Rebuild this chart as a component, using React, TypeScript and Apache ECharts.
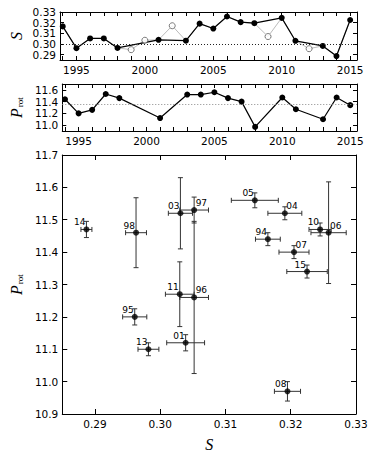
import React, { useEffect, useRef } from "react";
import * as echarts from "echarts";

// ---- data ----
const allYears = [1994,1995,1996,1997,1998,1999,2000,2001,2002,2003,2004,2005,2006,2007,2008,2009,2010,2011,2012,2013,2014,2015];
const filledYears = [1994,1995,1996,1997,1998,2001,2003,2004,2005,2006,2007,2008,2010,2011,2013,2014,2015];
const sFilled = [0.3165,0.2961,0.3052,0.3052,0.2963,0.3039,0.3031,0.3191,0.3145,0.3258,0.3205,0.3195,0.3245,0.3030,0.2982,0.2887,0.3225];
const openYears = [1999,2000,2002,2009,2012];
const sOpen = [0.2947,0.3035,0.3171,0.3070,0.2956];
const pRot = [11.44,11.20,11.26,11.53,11.46,11.12,11.52,11.52,11.56,11.46,11.40,10.97,11.47,11.27,11.10,11.47,11.34];
const sErr = [0.0019,0.00185,0.0022,0.0022,0.0016,0.0029,0.00185,0.0026,0.0036,0.0027,0.0023,0.002,0.0017,0.0022,0.0016,0.00084,0.0031];
const pErr = [0.02,0.025,0.235,0.04,0.108,0.025,0.11,0.02,0.023,0.157,0.02,0.03,0.02,0.10,0.02,0.025,0.02];
const sMean = 0.303;
const pMean = 11.36;
const rightLabels = ["97","96","04","06","07"];

const yearLabelTicks = [1995,2000,2005,2010,2015];
const sTicks = [0.29,0.30,0.31,0.32,0.33];
const sTickLabels = ["0.29","0.30","0.31","0.32","0.33"];
const pTicksMid = [11.0,11.2,11.4,11.6];
const pTicksBig = [10.9,11.0,11.1,11.2,11.3,11.4,11.5,11.6,11.7];

const FONT = "DejaVu Sans";
const SERIF = "Liberation Serif";
const LABEL_SIZE = 10.5;

function axis(opts: any) {
  const { gridIndex, position, min, max, labels, ticks, showLabel, digits, tickLen, name, nameGap, nameStyle, nameRotate } = opts;
  return {
    type: "value",
    gridIndex,
    position,
    min,
    max,
    name,
    nameLocation: "middle",
    nameGap,
    nameRotate,
    nameTextStyle: nameStyle,
    axisLine: { show: true, onZero: false, lineStyle: { color: "#000", width: 1 } },
    axisTick: { show: true, inside: true, length: tickLen, customValues: ticks, lineStyle: { color: "#000", width: 1 } },
    axisLabel: {
      show: showLabel,
      customValues: labels,
      formatter: (v: any) => Number(v).toFixed(digits),
      fontSize: LABEL_SIZE,
      fontFamily: FONT,
      color: "#000",
      margin: 4,
    },
    splitLine: { show: false },
  };
}

const protName = "{p|P}{s|rot}";
const protRich = {
  p: { fontFamily: SERIF, fontStyle: "italic", fontSize: 16, color: "#000", lineHeight: 18, verticalAlign: "bottom" },
  s: { fontFamily: SERIF, fontSize: 9, color: "#000", lineHeight: 9, verticalAlign: "bottom", padding: [0, 0, 0, 1] },
};

export default function App() {
  const ref = useRef<HTMLDivElement>(null);
  useEffect(() => {
    const chart = echarts.init(ref.current!, null, { renderer: "svg" });
    const xmin = 1993.8, xmax = 2015.5;
    const sMin = 0.285, sMax = 0.33, pMin = 10.9, pMax = 11.7;

    const sAll = allYears.map((y) => {
      const i = filledYears.indexOf(y);
      if (i >= 0) return [y, sFilled[i]];
      const j = openYears.indexOf(y);
      return [y, sOpen[j]];
    });

    const pointNames = filledYears.map((y) => String(y).slice(2));
    const errData = filledYears.map((y, i) => [sFilled[i], pRot[i], sErr[i], pErr[i]]);

    const textStyle = { fill: "#000", fontSize: LABEL_SIZE, fontFamily: FONT };

    const option: any = {
      animation: false,
      grid: [
        { left: 52, top: 12, width: 305, height: 48 },
        { left: 52, top: 84, width: 305, height: 47 },
        { left: 52, top: 155, width: 304, height: 262 },
      ],
      xAxis: [
        axis({ gridIndex: 0, position: "bottom", min: xmin, max: xmax, labels: yearLabelTicks, ticks: allYears, showLabel: true, digits: 0, tickLen: 4 }),
        axis({ gridIndex: 0, position: "top", min: xmin, max: xmax, labels: yearLabelTicks, ticks: allYears, showLabel: false, digits: 0, tickLen: 4 }),
        axis({ gridIndex: 1, position: "bottom", min: xmin, max: xmax, labels: yearLabelTicks, ticks: allYears, showLabel: true, digits: 0, tickLen: 4 }),
        axis({ gridIndex: 1, position: "top", min: xmin, max: xmax, labels: yearLabelTicks, ticks: allYears, showLabel: false, digits: 0, tickLen: 4 }),
        axis({ gridIndex: 2, position: "bottom", min: sMin, max: sMax, labels: sTicks, ticks: sTicks, showLabel: false, digits: 2, tickLen: 5,
          name: "S", nameGap: 22, nameStyle: { fontFamily: SERIF, fontStyle: "italic", fontSize: 16, color: "#000" } }),
        axis({ gridIndex: 2, position: "top", min: sMin, max: sMax, labels: sTicks, ticks: sTicks, showLabel: false, digits: 2, tickLen: 5 }),
      ],
      yAxis: [
        axis({ gridIndex: 0, position: "left", min: sMin, max: sMax, labels: sTicks, ticks: sTicks, showLabel: false, digits: 2, tickLen: 4,
          name: "S", nameGap: 36, nameRotate: 90, nameStyle: { fontFamily: SERIF, fontStyle: "italic", fontSize: 16, color: "#000" } }),
        axis({ gridIndex: 0, position: "right", min: sMin, max: sMax, labels: sTicks, ticks: sTicks, showLabel: false, digits: 2, tickLen: 4 }),
        axis({ gridIndex: 1, position: "left", min: pMin, max: pMax, labels: pTicksMid, ticks: pTicksMid, showLabel: true, digits: 1, tickLen: 4,
          name: protName, nameGap: 34, nameRotate: 90, nameStyle: { rich: protRich } }),
        axis({ gridIndex: 1, position: "right", min: pMin, max: pMax, labels: pTicksMid, ticks: pTicksMid, showLabel: false, digits: 1, tickLen: 4 }),
        axis({ gridIndex: 2, position: "left", min: pMin, max: pMax, labels: pTicksBig, ticks: pTicksBig, showLabel: true, digits: 1, tickLen: 5,
          name: protName, nameGap: 31, nameRotate: 90, nameStyle: { rich: protRich } }),
        axis({ gridIndex: 2, position: "right", min: pMin, max: pMax, labels: pTicksBig, ticks: pTicksBig, showLabel: false, digits: 1, tickLen: 5 }),
      ],
      series: [
        {
          type: "line", xAxisIndex: 0, yAxisIndex: 0, data: sAll, symbol: "none",
          lineStyle: { color: "#bbbbbb", width: 1 }, z: 1,
        },
        {
          type: "line", xAxisIndex: 0, yAxisIndex: 0,
          data: filledYears.map((y, i) => [y, sFilled[i]]),
          symbol: "circle", symbolSize: 6, itemStyle: { color: "#000" },
          lineStyle: { color: "#000", width: 1.2 }, z: 3,
          markLine: {
            silent: true, symbol: ["none", "none"], label: { show: false },
            lineStyle: { type: [1, 2], color: "#222", width: 1 },
            data: [{ yAxis: sMean }],
          },
        },
        {
          type: "scatter", xAxisIndex: 0, yAxisIndex: 0,
          data: openYears.map((y, i) => [y, sOpen[i]]),
          symbol: "circle", symbolSize: 6,
          itemStyle: { color: "#fff", borderColor: "#333", borderWidth: 0.8 }, z: 4,
        },
        // S tick labels of the top panel (left axis)
        {
          type: "custom", xAxisIndex: 0, yAxisIndex: 0, clip: false, silent: true,
          data: sTicks.map((v) => [xmin, v]),
          renderItem: (params: any, api: any) => {
            const p = api.coord([api.value(0), api.value(1)]);
            return {
              type: "text", x: p[0] - 4, y: p[1],
              style: { ...textStyle, text: sTickLabels[params.dataIndex], align: "right", verticalAlign: "middle" },
            };
          },
        },
        {
          type: "line", xAxisIndex: 2, yAxisIndex: 2,
          data: filledYears.map((y, i) => [y, pRot[i]]),
          symbol: "circle", symbolSize: 6, itemStyle: { color: "#000" },
          lineStyle: { color: "#000", width: 1.2 }, z: 3,
          markLine: {
            silent: true, symbol: ["none", "none"], label: { show: false },
            lineStyle: { type: [1, 2], color: "#888", width: 1 },
            data: [{ yAxis: pMean }],
          },
        },
        // S tick labels of the scatter panel (bottom axis)
        {
          type: "custom", xAxisIndex: 4, yAxisIndex: 4, clip: false, silent: true,
          data: sTicks.map((v) => [v, pMin]),
          renderItem: (params: any, api: any) => {
            const p = api.coord([api.value(0), api.value(1)]);
            return {
              type: "text", x: p[0], y: p[1] + 4,
              style: { ...textStyle, text: sTickLabels[params.dataIndex], align: "center", verticalAlign: "top" },
            };
          },
        },
        {
          type: "custom", xAxisIndex: 4, yAxisIndex: 4,
          data: errData,
          encode: { x: 0, y: 1 },
          z: 2,
          renderItem: (params: any, api: any) => {
            const x = api.value(0), y = api.value(1), ex = api.value(2), ey = api.value(3);
            const p = api.coord([x, y]);
            const l = api.coord([x - ex, y]);
            const r = api.coord([x + ex, y]);
            const t = api.coord([x, y + ey]);
            const b = api.coord([x, y - ey]);
            const c = 2.5;
            const st = { stroke: "#333", lineWidth: 1 };
            const ln = (x1: number, y1: number, x2: number, y2: number) => ({ type: "line", shape: { x1, y1, x2, y2 }, style: st });
            const nm = pointNames[params.dataIndex];
            const right = rightLabels.includes(nm);
            return {
              type: "group",
              children: [
                ln(l[0], l[1], r[0], r[1]),
                ln(t[0], t[1], b[0], b[1]),
                ln(l[0], l[1] - c, l[0], l[1] + c),
                ln(r[0], r[1] - c, r[0], r[1] + c),
                ln(t[0] - c, t[1], t[0] + c, t[1]),
                ln(b[0] - c, b[1], b[0] + c, b[1]),
                {
                  type: "text",
                  x: right ? p[0] + 1.5 : p[0] - 1,
                  y: p[1] - 2.5,
                  style: {
                    text: nm, fill: "#000", fontSize: 9, fontFamily: FONT,
                    align: right ? "left" : "right", verticalAlign: "bottom",
                  },
                },
              ],
            };
          },
        },
        {
          type: "scatter", xAxisIndex: 4, yAxisIndex: 4,
          data: filledYears.map((y, i) => [sFilled[i], pRot[i]]),
          symbol: "circle", symbolSize: 6, itemStyle: { color: "#000" }, z: 5,
        },
      ],
    };
    chart.setOption(option);
    return () => chart.dispose();
  }, []);
  return <div ref={ref} style={{ position: "absolute", left: 0, top: 0, width: 374, height: 457 }} />;
}
